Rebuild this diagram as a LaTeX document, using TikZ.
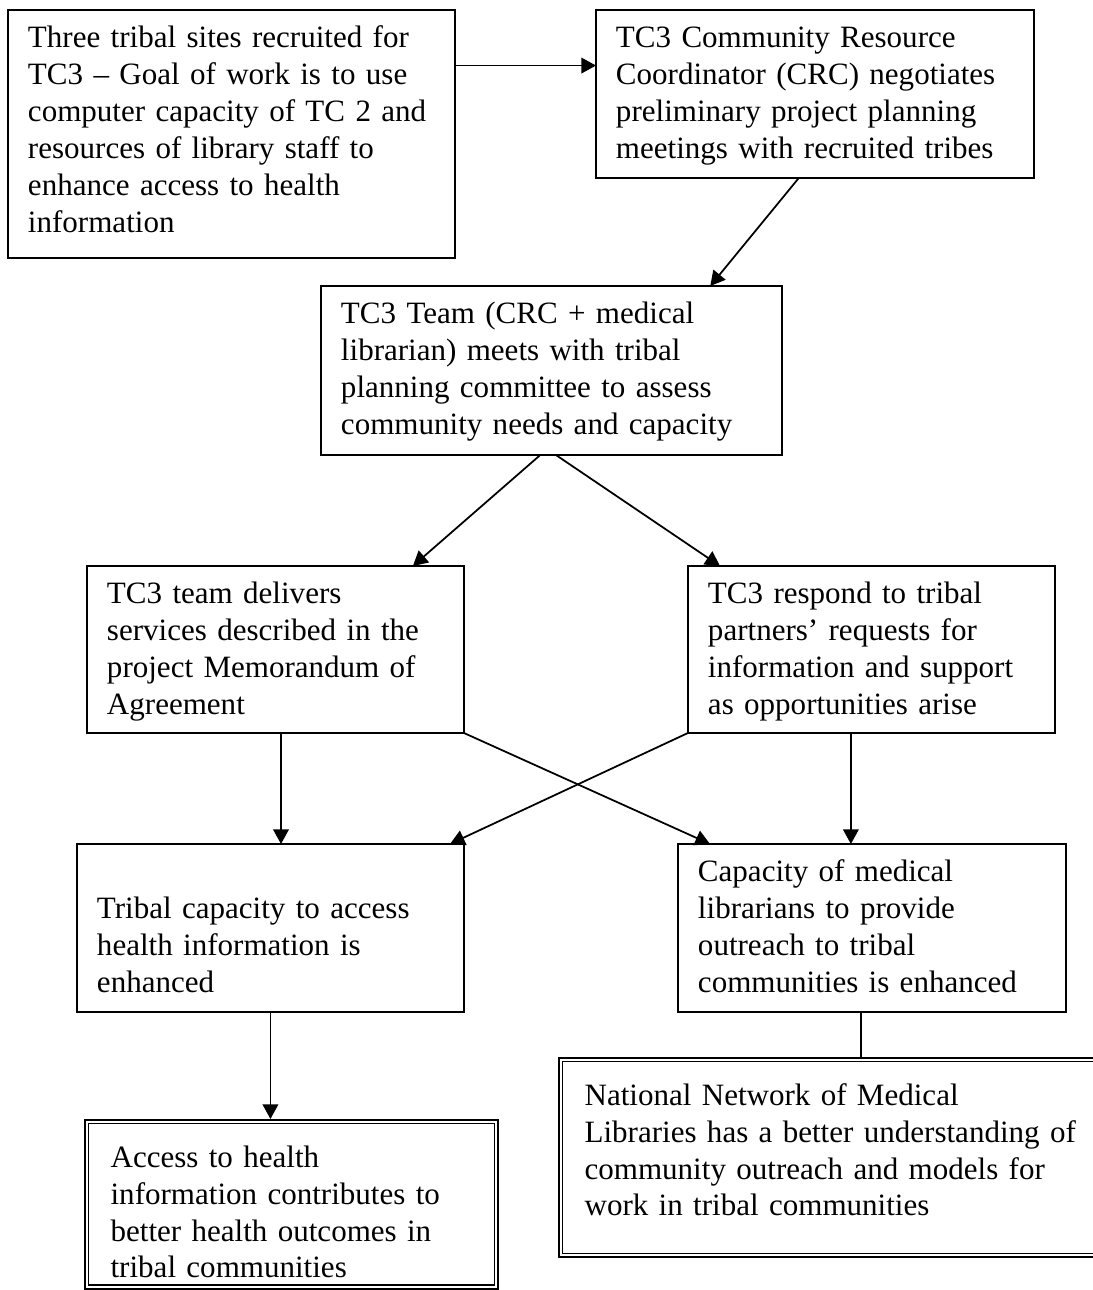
\documentclass[tikz,border=0pt]{standalone}
\usepackage{fontspec}
\setmainfont{Liberation Serif}
\usepackage{tikz}
\usetikzlibrary{arrows.meta}

\begin{document}
\begin{tikzpicture}[
  x=0.018cm, y=-0.018cm,
  font=\fontsize{15.9}{18.9}\selectfont,
  box/.style={draw, line width=1pt, anchor=north west, align=left,
    inner xsep=0.36cm, inner ysep=0pt, outer sep=0pt, text height=0.68cm},
  dbox/.style={box, double, line width=0.9pt, double distance=1.0pt,
    outer sep=1.4pt, inner xsep=0.43cm, text height=0.82cm},
  flow/.style={-{Triangle[length=7.5pt,width=8pt]}, line width=0.9pt},
  link/.style={line width=0.9pt},
]
\useasboundingbox (0,0) rectangle (1093,1290);
\clip (0,0) rectangle (1093,1290);

% =================== top row ===================
\node[box, text width=7.326cm, text depth=3.784cm] (tribes) at (8,10)
  {Three tribal sites recruited for\\ TC3 – Goal of work is to use\\
   computer capacity of TC 2 and\\ resources of library staff to\\
   enhance access to health\\ information};
\node[box, text width=7.164cm, text depth=2.344cm] (crc) at (596,10)
  {TC3 Community Resource\\ Coordinator (CRC) negotiates\\
   preliminary project planning\\ meetings with recruited tribes};
\node[box, text width=7.578cm, text depth=2.362cm] (team) at (321,286)
  {TC3 Team (CRC + medical\\ librarian) meets with tribal\\
   planning committee to assess\\ community needs and capacity};

% =================== activities ===================
\node[box, text width=6.066cm, text depth=2.326cm] (deliver) at (87,566)
  {TC3 team delivers\\ services described in the\\
   project Memorandum of\\ Agreement};
\node[box, text width=5.886cm, text depth=2.326cm] (respond) at (688,566)
  {TC3 respond to tribal\\ partners’ requests for\\
   information and support\\ as opportunities arise};

% =================== outcomes ===================
\node[box, text width=6.246cm, text depth=2.344cm] (tribcap) at (77,844)
  {\mbox{}\\ Tribal capacity to access\\ health information is\\ enhanced};
\node[box, text width=6.264cm, text depth=2.344cm] (libcap) at (678,844)
  {Capacity of medical\\ librarians to provide\\
   outreach to tribal\\ communities is enhanced};
\node[dbox, text width=6.516cm, text depth=2.157cm] (access) at (84,1119)
  {Access to health\\ information contributes to\\
   better health outcomes in\\ tribal communities};
\node[dbox, text width=9.6cm, text depth=2.704cm] (nnlm) at (558,1057)
  {National Network of Medical\\ Libraries has a better understanding of\\
   community outreach and models for\\ work in tribal communities};

% =================== connectors ===================
\draw[flow] ([yshift=-1cm]tribes.north east) coordinate (t1) -- (t1 -| crc.west);
\draw[flow] ([xshift=-0.29cm]crc.south) -- ([xshift=2.86cm]team.north);
\draw[flow] ([xshift=-0.2cm]team.south) -- ([xshift=2.475cm]deliver.north);
\draw[flow] ([xshift=0.08cm]team.south) -- ([xshift=-2.727cm]respond.north);
\draw[flow] ([xshift=0.1cm]deliver.south) coordinate (d1) -- (d1 |- tribcap.north);
\draw[flow] ([xshift=-0.37cm]respond.south) coordinate (r1) -- (r1 |- libcap.north);
\draw[flow] (deliver.south east) -- ([xshift=-2.916cm]libcap.north);
\draw[flow] (respond.south west) -- ([xshift=-0.25cm]tribcap.north east);
\draw[flow] (tribcap.south) -- (tribcap.south |- access.north);
\draw[link] ([xshift=-0.2cm]libcap.south) coordinate (l1) -- (l1 |- nnlm.north);
\end{tikzpicture}
\end{document}
